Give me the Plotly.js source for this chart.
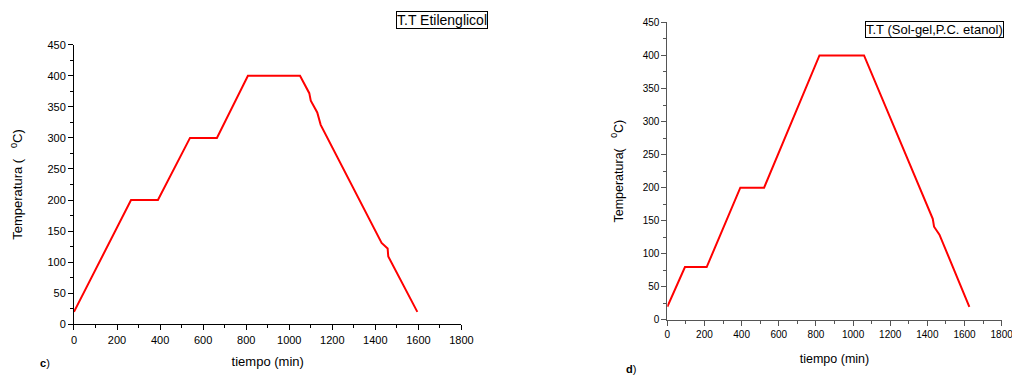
<!DOCTYPE html>
<html>
<head>
<meta charset="utf-8">
<script src="https://cdn.plot.ly/plotly-3.0.1.min.js"></script>
<style>html,body{margin:0;padding:0;background:#fff;}#chart{width:1012px;height:375px;}</style>
</head>
<body>
<div id="chart"></div>
<script>
// Panel c) T.T Etilenglicol
const timeC = [0, 265, 390, 539, 664, 808, 1050, 1093, 1100, 1130, 1146, 1429, 1457, 1460, 1595];
const tempC = [20, 200, 200, 300, 300, 400, 400, 372, 360, 341, 321, 131, 122, 109, 20];
// Panel d) T.T (Sol-gel,P.C. etanol)
const timeD = [0, 95, 212, 393, 521, 819, 1059, 1429, 1436, 1465, 1626];
const tempD = [20, 80, 80, 200, 200, 400, 400, 153, 141, 129, 20];

const nameC = "T.T Etilenglicol";
const nameD = "T.T (Sol-gel,P.C. etanol)";
const xTitle = "tiempo (min)";
const yTitleC = "Temperatura (   <sup>0</sup>C)";
const yTitleD = "Temperatura(   <sup>0</sup>C)";
const xTicks = [0, 200, 400, 600, 800, 1000, 1200, 1400, 1600, 1800];
const yTicks = [0, 50, 100, 150, 200, 250, 300, 350, 400, 450];

const F = "Liberation Sans, Arial, sans-serif";

const traces = [
  {x: timeC, y: tempC, name: nameC, mode: 'lines', line: {color: '#ff0000', width: 2}, xaxis: 'x', yaxis: 'y', showlegend: false},
  {x: timeD, y: tempD, name: nameD, mode: 'lines', line: {color: '#ff0000', width: 2}, xaxis: 'x2', yaxis: 'y2', showlegend: false}
];

function xa(domain, anchor, col, fs, tfs, standoff) {
  return {domain: domain, anchor: anchor, range: [0, 1800], tickvals: xTicks, ticktext: xTicks.map(String),
    showline: true, linecolor: col, linewidth: 1, ticks: 'outside', ticklen: 5, tickcolor: col, tickwidth: 1,
    minor: {ticks: 'outside', ticklen: 3, tickcolor: col, dtick: 100, tick0: 0},
    ticklabeloverflow: 'allow',
    showgrid: false, zeroline: false, tickfont: {family: F, size: fs, color: '#000'},
    title: {text: xTitle, font: {family: F, size: tfs, color: '#000'}, standoff: standoff}};
}
function ya(domain, anchor, col, fs, tfs, title, standoff) {
  return {domain: domain, anchor: anchor, range: [0, 450], tickvals: yTicks, ticktext: yTicks.map(String),
    showline: true, linecolor: col, linewidth: 1, ticks: 'outside', ticklen: 5, tickcolor: col, tickwidth: 1,
    minor: {ticks: 'outside', ticklen: 3, tickcolor: col, dtick: 25, tick0: 0},
    ticklabeloverflow: 'allow',
    showgrid: false, zeroline: false, tickfont: {family: F, size: fs, color: '#000'},
    title: {text: title, font: {family: F, size: tfs, color: '#000'}, standoff: standoff}};
}

const layout = {
  width: 1012, height: 375,
  margin: {l: 0, r: 0, t: 0, b: 0},
  paper_bgcolor: '#fff', plot_bgcolor: 'rgba(0,0,0,0)',
  showlegend: false,
  xaxis: xa([0.0731, 0.4560], 'y', '#000', 11, 13, 12),
  yaxis: ya([0.1352, 0.8808], 'x', '#000', 11, 13, yTitleC, 21),
  xaxis2: xa([0.6594, 0.9898], 'y2', '#555', 10, 12.5, 15),
  yaxis2: ya([0.1467, 0.9405], 'x2', '#555', 10, 12.5, yTitleD, 16),
  annotations: [
    {text: nameC, xref: 'paper', yref: 'paper', x: 442/1012, y: 1 - 20/375, xanchor: 'center', yanchor: 'middle',
     showarrow: false, font: {family: F, size: 14, color: '#000'}, bordercolor: '#000', borderwidth: 1, borderpad: 0, bgcolor: '#fff'},
    {text: nameD, xref: 'paper', yref: 'paper', x: 934/1012, y: 1 - 29/375, xanchor: 'center', yanchor: 'middle',
     showarrow: false, font: {family: F, size: 13, color: '#000'}, bordercolor: '#000', borderwidth: 1, borderpad: 0, bgcolor: '#fff'},
    {text: '<b>c</b>)', xref: 'paper', yref: 'paper', x: 38/1012, y: 1 - 363/375, xanchor: 'left', yanchor: 'middle',
     showarrow: false, font: {family: F, size: 11, color: '#000'}},
    {text: '<b>d</b>)', xref: 'paper', yref: 'paper', x: 624/1012, y: 1 - 369/375, xanchor: 'left', yanchor: 'middle',
     showarrow: false, font: {family: F, size: 11, color: '#000'}}
  ]
};

Plotly.newPlot('chart', traces, layout, {displayModeBar: false, staticPlot: true});
</script>
</body>
</html>
